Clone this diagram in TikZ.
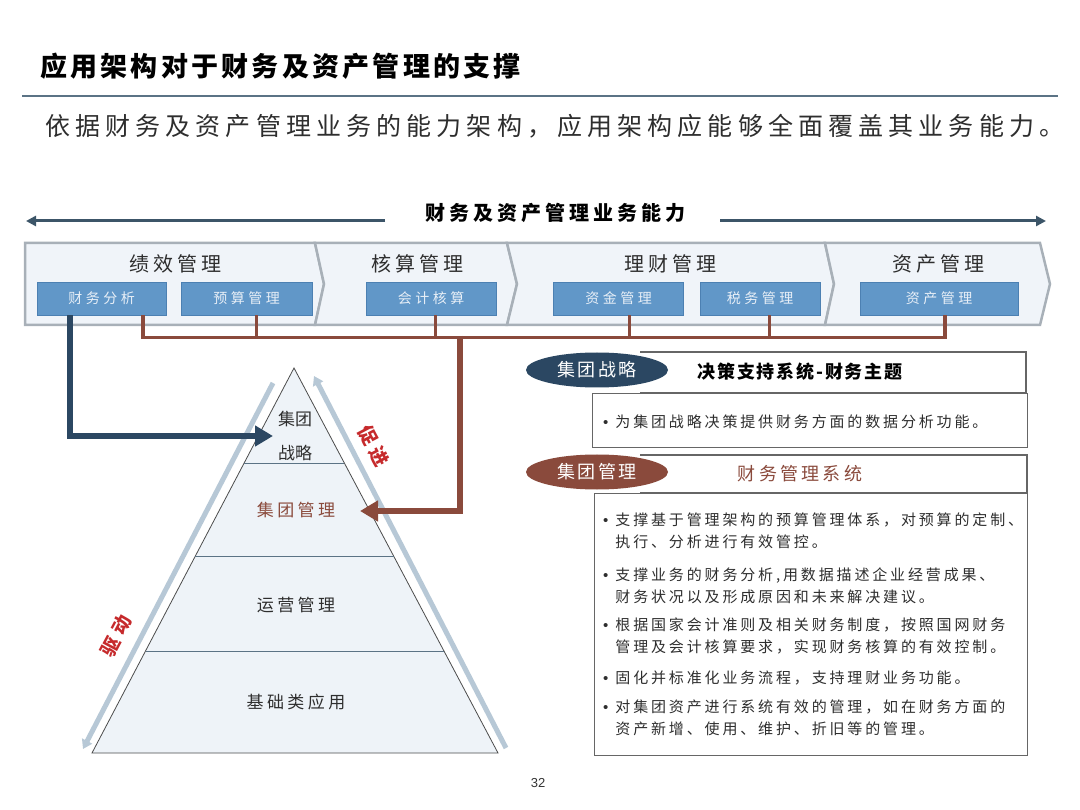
\documentclass[tikz,border=0pt]{standalone}
\usepackage{fontspec}
\setmainfont{Noto Sans CJK SC}
\newfontfamily\lib{Liberation Sans}
\usetikzlibrary{shapes.geometric,arrows.meta,calc}
\definecolor{navy}{HTML}{2B4762}
\definecolor{arrowblue}{HTML}{3C5568}
\definecolor{brn}{HTML}{8A4A3C}
\definecolor{chevfill}{HTML}{F0F4F9}
\definecolor{chevline}{HTML}{A8B0B8}
\definecolor{subfill}{HTML}{6197C8}
\definecolor{subline}{HTML}{4C80B2}
\definecolor{subtext}{HTML}{E8EFF7}
\definecolor{pyrfill}{HTML}{EEF3F8}
\definecolor{sidearr}{HTML}{B7C8D6}
\definecolor{redlab}{HTML}{C62A2C}
\definecolor{rulecol}{HTML}{5B7385}
\definecolor{txt}{HTML}{2E2E2E}
\newcommand\fsz[3]{\fontsize{#1}{#2}\selectfont\addfontfeatures{LetterSpace=#3}}
\begin{document}
\begin{tikzpicture}[x=1pt,y=-1pt,
  chev/.style={fill=chevfill,draw=chevline,line width=2.5pt,line join=miter},
  subbox/.style={rectangle,fill=subfill,draw=subline,line width=0.8pt,minimum height=33pt,inner sep=0pt,text=subtext,font=\fsz{14}{17}{25}},
  chevtitle/.style={inner sep=0pt,text=txt,font=\fsz{20}{24}{20}},
  bus/.style={draw=brn,line width=3.5pt,line join=miter},
  drop/.style={draw=brn,line width=3pt},
  brnarr/.style={draw=brn,line width=6.5pt,line join=miter,-{Triangle[length=18pt,width=20pt]}},
  navyarr/.style={draw=navy,line width=6.5pt,line join=miter,-{Triangle[length=18pt,width=20pt]}},
  toparr/.style={draw=arrowblue,line width=3pt,-{Triangle[length=10pt,width=10pt]}},
  side/.style={draw=sidearr,line width=5pt,-{Triangle[length=9pt,width=11pt]}},
  pyr/.style={fill=pyrfill,draw=black!70,line width=0.8pt},
  level/.style={draw=rulecol,line width=1pt},
  pyrtext/.style={inner sep=0pt,text=txt,font=\fsz{17}{20}{20}},
  redlabel/.style={inner sep=0pt,text=redlab,font=\bfseries\fsz{19}{22}{28}},
  hdrpath/.style={draw=black!60,line width=1.5pt,fill=white},
  bodybox/.style={rectangle,draw=black!60,line width=1.2pt,fill=white,anchor=north west,inner sep=0pt},
  oval/.style={ellipse,minimum width=142pt,minimum height=35pt,inner sep=0pt,text=white,font=\fsz{18}{22}{14}},
  item/.style={anchor=north west,inner sep=0pt,text=txt,font=\fsz{15}{22}{19}}
]
\useasboundingbox[fill=white] (0,0) rectangle (1080,810);

% title area
\node[anchor=west,inner sep=0pt,text=black,font=\bfseries\fsz{27}{30}{12}] (title) at (40,66) {应用架构对于财务及资产管理的支撑};
\draw[draw=rulecol,line width=2pt] (22,96) -- (1058,96);
\node[anchor=west,inner sep=0pt,text=txt,font=\fsz{25}{30}{20.5}] (subtitle) at (45,126) {依据财务及资产管理业务的能力架构，应用架构应能够全面覆盖其业务能力。};

% capability heading with arrows
\node[inner sep=0pt,text=black,font=\bfseries\fsz{20}{24}{20}] (cap) at (555,213) {财务及资产管理业务能力};
\coordinate (capL) at (385,221);
\coordinate (arrL) at (26,221);
\coordinate (capR) at (720,221);
\coordinate (arrR) at (1046,221);
\draw[toparr] (capL) -- (arrL);
\draw[toparr] (capR) -- (arrR);

% chevron band
\draw[chev] (25,243) -- (315,243) -- (324,284) -- (315,325) -- (25,325) -- cycle;
\draw[chev] (315,243) -- (507,243) -- (517,284) -- (507,325) -- (315,325) -- (324,284) -- cycle;
\draw[chev] (507,243) -- (825,243) -- (834,284) -- (825,325) -- (507,325) -- (517,284) -- cycle;
\draw[chev] (825,243) -- (1040,243) -- (1050,284) -- (1040,325) -- (825,325) -- (834,284) -- cycle;

\node[chevtitle] (c1) at (175,264) {绩效管理};
\node[chevtitle] (c2) at (417,264) {核算管理};
\node[chevtitle] (c3) at (670,264) {理财管理};
\node[chevtitle] (c4) at (938,264) {资产管理};

\node[subbox,minimum width=129pt] (fa) at (101.5,298.5) {财务分析};
\node[subbox,minimum width=131pt] (ys) at (246.5,298.5) {预算管理};
\node[subbox,minimum width=130pt] (kj) at (431,298.5) {会计核算};
\node[subbox,minimum width=130pt] (zj) at (618.5,298.5) {资金管理};
\node[subbox,minimum width=120pt] (sw) at (760,298.5) {税务管理};
\node[subbox,minimum width=158pt] (zc) at (939,298.5) {资产管理};

% pyramid
\coordinate (apex) at (294,368);
\coordinate (bl) at (92,753);
\coordinate (br) at (498,753);
\draw[pyr] (apex) -- (bl) -- (br) -- cycle;
\draw[level] ($(apex)!0.2468!(bl)$) -- ($(apex)!0.2468!(br)$);
\draw[level] ($(apex)!0.4909!(bl)$) -- ($(apex)!0.4909!(br)$);
\draw[level] ($(apex)!0.7351!(bl)$) -- ($(apex)!0.7351!(br)$);

\coordinate (lt) at (273,383);
\coordinate (lb) at (83,749);
\coordinate (rb) at (506,748);
\coordinate (rt) at (314,376);
\draw[side] (lt) -- (lb);
\draw[side] (rb) -- (rt);

\node[redlabel,rotate=-62] (cj) at (374,446) {促进};
\node[redlabel,rotate=62] (qd) at (116,636) {驱动};

\node[inner sep=0pt,text=txt,font=\fsz{17}{20}{0}] (jt1) at (295,419) {集团};
\node[inner sep=0pt,text=txt,font=\fsz{17}{20}{0}] (jt2) at (295,453) {战略};
\node[pyrtext,text=brn] (jtgl) at (296,510) {集团管理};
\node[pyrtext] (yygl) at (296,605) {运营管理};
\node[pyrtext] (jcyy) at (296,702) {基础类应用};

% connectors
\draw[bus] ($(fa.south)+(41.5,0)$) -- ++(0,22) -| ($(zc.south)+(6,0)$);
\draw[drop] ($(ys.south)+(9.5,0)$) -- ++(0,22);
\draw[drop] ($(kj.south)+(4,0)$) -- ++(0,22);
\draw[drop] ($(zj.south)+(10.5,0)$) -- ++(0,22);
\draw[drop] ($(sw.south)+(9,0)$) -- ++(0,22);

\coordinate (brtop) at (460,336);
\coordinate (brtip) at (360,511);
\draw[brnarr] (brtop) |- (brtip);

\coordinate (navytip) at (273,436);
\draw[navyarr] ($(fa.south)+(-31.5,0)$) |- (navytip);

% right panel 1
\draw[hdrpath] (640,352) -- (1026,352) -- (1026,393) -- (640,393);
\node[bodybox,minimum width=435pt,minimum height=54pt] (b1) at (592,393) {};
\node[oval,fill=navy] (e1) at (597,370) {集团战略};
\node[inner sep=0pt,text=black,font=\bfseries\fsz{18}{22}{10}] (t1) at (800,372) {决策支持系统-财务主题};
\node[item] (i0) at (603,412) {\begin{tabular}{@{}l@{\hspace{7pt}}l@{}}{\lib •}&为集团战略决策提供财务方面的数据分析功能。\end{tabular}};

% right panel 2
\draw[hdrpath] (640,455) -- (1027,455) -- (1027,493) -- (640,493);
\node[bodybox,minimum width=433pt,minimum height=262pt] (b2) at (594,493) {};
\node[oval,fill=brn] (e2) at (597,472) {集团管理};
\node[inner sep=0pt,text=brn,font=\fsz{18}{22}{18}] (t2) at (800,474) {财务管理系统};

\node[item] (i1) at (603,510) {\begin{tabular}{@{}l@{\hspace{7pt}}l@{}}{\lib •}&支撑基于管理架构的预算管理体系，对预算的定制、\\&执行、分析进行有效管控。\end{tabular}};
\node[item] (i2) at (603,565) {\begin{tabular}{@{}l@{\hspace{7pt}}l@{}}{\lib •}&支撑业务的财务分析,用数据描述企业经营成果、\\&财务状况以及形成原因和未来解决建议。\end{tabular}};
\node[item] (i3) at (603,615) {\begin{tabular}{@{}l@{\hspace{7pt}}l@{}}{\lib •}&根据国家会计准则及相关财务制度，按照国网财务\\&管理及会计核算要求，实现财务核算的有效控制。\end{tabular}};
\node[item] (i4) at (603,668) {\begin{tabular}{@{}l@{\hspace{7pt}}l@{}}{\lib •}&固化并标准化业务流程，支持理财业务功能。\end{tabular}};
\node[item] (i5) at (603,697) {\begin{tabular}{@{}l@{\hspace{7pt}}l@{}}{\lib •}&对集团资产进行系统有效的管理，如在财务方面的\\&资产新增、使用、维护、折旧等的管理。\end{tabular}};

\node[inner sep=0pt,text=black!80,font=\lib\fontsize{13}{15}\selectfont] (pg) at (538,783) {32};
\end{tikzpicture}
\end{document}
